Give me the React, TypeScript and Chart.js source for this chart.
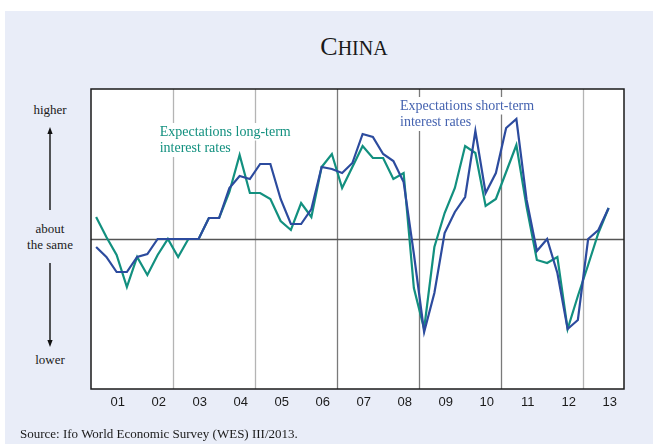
import React, { useEffect, useRef } from "react";
import { Chart, registerables } from "chart.js";

Chart.register(...registerables);

// ---- data ----
const YEAR_LABELS = ["01", "02", "03", "04", "05", "06", "07", "08", "09", "10", "11", "12", "13"];
const FIRST_YEAR = 2001;
// quarterly observations 2001Q1 .. 2013Q3
const LONG_TERM = [
  22, 2, -16, -48, -18, -36, -16, 0, -18, 0, 0, 21, 21, 47, 84, 46, 46, 40, 18, 9,
  36, 22, 72, 85, 51, 72, 93, 81, 81, 60, 66, -49, -90, -8, 26, 51, 93, 86, 33, 40,
  67, 94, 32, -21, -24, -18, -90, -57, -26, 6, 31,
];
const SHORT_TERM = [
  -8, -18, -33, -33, -18, -15, 0, 0, 0, 0, 0, 21, 21, 51, 63, 60, 75, 75, 40, 15,
  15, 30, 72, 70, 66, 76, 105, 102, 85, 78, 57, -15, -93, -54, 6, 27, 42, 108, 46, 66,
  111, 120, 39, -12, 0, -34, -90, -81, 0, 9, 31,
];
const GRID_YEARS = [2003, 2005, 2007, 2009, 2011, 2013];
const DARK_GRID_YEARS = [2007, 2009, 2011];
const LONG_LABEL = ["Expectations long-term", "interest rates"];
const SHORT_LABEL = ["Expectations short-term", "interest rates"];

const GREEN = "#12907f";
const BLUE = "#2c4b9e";
const BG = "#e9edf8";

const toPoints = (arr: number[]) => arr.map((v, i) => ({ x: i + 0.5, y: v }));

const decorPlugin = {
  id: "decor",
  beforeDraw(chart: any) {
    const { ctx, chartArea: a } = chart;
    ctx.save();
    ctx.fillStyle = "#ffffff";
    ctx.fillRect(a.left, a.top, a.right - a.left, a.bottom - a.top);
    ctx.restore();
  },
  beforeDatasetsDraw(chart: any) {
    const { ctx, chartArea: a, scales } = chart;
    const xs = scales.x;
    const ys = scales.y;
    ctx.save();
    // vertical year lines
    GRID_YEARS.forEach((yr) => {
      const px = Math.round(xs.getPixelForValue((yr - FIRST_YEAR) * 4)) + 0.5;
      ctx.beginPath();
      ctx.strokeStyle = DARK_GRID_YEARS.includes(yr) ? "#7a7a7a" : "#b4b4b4";
      ctx.lineWidth = 1.3;
      ctx.moveTo(px, a.top);
      ctx.lineTo(px, a.bottom);
      ctx.stroke();
    });
    // zero line
    const zy = Math.round(ys.getPixelForValue(0)) + 0.5;
    ctx.beginPath();
    ctx.strokeStyle = "#555555";
    ctx.lineWidth = 1.3;
    ctx.moveTo(a.left, zy);
    ctx.lineTo(a.right, zy);
    ctx.stroke();

    // annotations with white boxes
    const drawLabel = (lines: string[], xVal: number, yVal: number, color: string) => {
      ctx.font = "14px 'Liberation Serif', 'Times New Roman', serif";
      ctx.textBaseline = "middle";
      ctx.textAlign = "left";
      const left = xs.getPixelForValue(xVal);
      const top = ys.getPixelForValue(yVal);
      const lh = 16.5;
      lines.forEach((t, k) => {
        const w = ctx.measureText(t).width;
        ctx.fillStyle = "#ffffff";
        ctx.fillRect(left - 3, top + k * lh - 9, w + 6, lh + 1);
      });
      ctx.fillStyle = color;
      lines.forEach((t, k) => {
        ctx.fillText(t, left, top + k * lh);
      });
    };
    drawLabel(LONG_LABEL, 6.7, 107, GREEN);
    drawLabel(SHORT_LABEL, 30.15, 133, "#4563b0");
    ctx.restore();
  },
  afterDatasetsDraw(chart: any) {
    const { ctx, chartArea: a } = chart;
    ctx.save();
    ctx.strokeStyle = "#1a1a1a";
    ctx.lineWidth = 1.5;
    ctx.strokeRect(a.left, a.top, a.right - a.left, a.bottom - a.top);
    ctx.restore();
  },
};

const serif = "'Liberation Serif', 'Times New Roman', serif";

function Arrow({ x, y1, y2 }: { x: number; y1: number; y2: number }) {
  const dir = y2 < y1 ? -1 : 1;
  return (
    <g>
      <line x1={x} y1={y1} x2={x} y2={y2 - dir * 5} stroke="#111" strokeWidth={1.4} />
      <polygon
        points={`${x},${y2} ${x - 2.6},${y2 - dir * 7} ${x + 2.6},${y2 - dir * 7}`}
        fill="#111"
      />
    </g>
  );
}

export default function App() {
  const canvasRef = useRef<HTMLCanvasElement | null>(null);

  useEffect(() => {
    if (!canvasRef.current) return;
    const chart = new Chart(canvasRef.current, {
      type: "line",
      data: {
        datasets: [
          {
            label: "Expectations short-term interest rates",
            data: toPoints(SHORT_TERM),
            borderColor: BLUE,
            borderWidth: 2.2,
            pointRadius: 0,
            tension: 0,
            fill: false,
          },
          {
            label: "Expectations long-term interest rates",
            data: toPoints(LONG_TERM),
            borderColor: GREEN,
            borderWidth: 2.2,
            pointRadius: 0,
            tension: 0,
            fill: false,
          },
        ],
      },
      options: {
        animation: false,
        responsive: true,
        maintainAspectRatio: false,
        layout: { padding: { left: 91, right: 29, top: 89, bottom: 35 } },
        plugins: {
          legend: { display: false },
          tooltip: { enabled: false },
          title: { display: false },
        },
        scales: {
          x: {
            type: "linear",
            min: 0,
            max: YEAR_LABELS.length * 4,
            grid: { display: false, drawTicks: false },
            border: { display: false },
            afterBuildTicks: (s: any) => {
              s.ticks = YEAR_LABELS.map((_, k) => ({ value: k * 4 + 2.6 }));
            },
            afterFit: (s: any) => {
              s.height = 20;
            },
            ticks: {
              autoSkip: false,
              maxRotation: 0,
              minRotation: 0,
              padding: 6,
              color: "#1a1a1a",
              font: { family: "'Liberation Sans', Arial, sans-serif", size: 13 },
              callback: (_v: any, i: number) => YEAR_LABELS[i],
            },
          },
          y: {
            display: false,
            min: -150,
            max: 150,
          },
        },
      },
      plugins: [decorPlugin],
    } as any);
    return () => chart.destroy();
  }, []);

  const txt: React.CSSProperties = {
    position: "absolute",
    fontFamily: serif,
    fontSize: 13,
    color: "#1a1a1a",
    textAlign: "center",
    width: 90,
    left: 5,
    lineHeight: "15px",
    whiteSpace: "nowrap",
  };

  return (
    <div style={{ position: "fixed", left: 0, top: 0, width: 653, height: 444, background: "#ffffff", overflow: "hidden" }}>
      <div style={{ position: "absolute", left: 5, top: 11, width: 648, height: 433, background: BG }} />
      <div
        style={{
          position: "absolute",
          left: 254,
          width: 200,
          top: 32,
          textAlign: "center",
          fontFamily: serif,
          color: "#1a1a1a",
          lineHeight: "30px",
          whiteSpace: "nowrap",
        }}
      >
        <span style={{ fontSize: 26 }}>C</span>
        <span style={{ fontSize: 20 }}>HINA</span>
      </div>
      <div style={{ ...txt, top: 102 }}>higher</div>
      <div style={{ ...txt, top: 221 }}>about</div>
      <div style={{ ...txt, top: 237 }}>the same</div>
      <div style={{ ...txt, top: 352 }}>lower</div>
      <svg width={653} height={444} style={{ position: "absolute", left: 0, top: 0 }}>
        <Arrow x={50} y1={210} y2={127} />
        <Arrow x={50} y1={263} y2={347} />
      </svg>
      <div style={{ position: "absolute", left: 0, top: 0, width: 653, height: 444 }}>
        <canvas ref={canvasRef} />
      </div>
      <div
        style={{
          position: "absolute",
          left: 20,
          top: 426,
          fontFamily: serif,
          fontSize: 13,
          color: "#1a1a1a",
          lineHeight: "15px",
          whiteSpace: "nowrap",
        }}
      >
        Source: Ifo World Economic Survey (WES) III/2013.
      </div>
    </div>
  );
}
